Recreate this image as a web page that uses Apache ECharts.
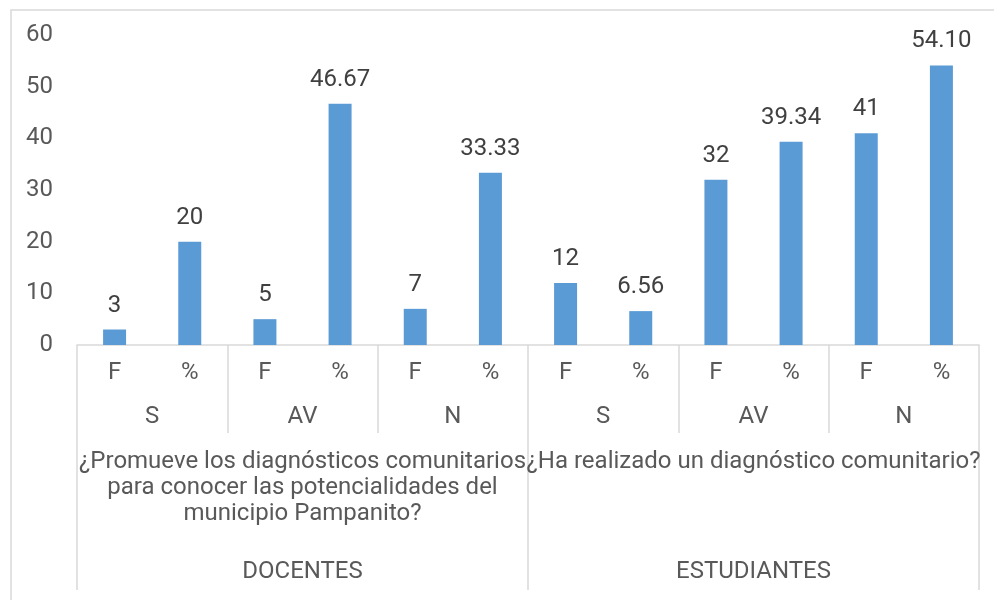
<!DOCTYPE html>
<html>
<head>
<meta charset="utf-8">
<script src="https://cdn.jsdelivr.net/npm/echarts@6/dist/echarts.min.js"></script>
<style>
  html, body { margin: 0; padding: 0; background: #fff; }
  #chart { width: 994px; height: 600px; }
</style>
</head>
<body>
<div id="chart"></div>
<script>
// leaf categories (F = frecuencia, % = porcentaje)
const leafLabels = ["F", "%", "F", "%", "F", "%", "F", "%", "F", "%", "F", "%"];
const answerLabels = ["S", "AV", "N", "S", "AV", "N"];
const questionLabels = [
  "¿Promueve los diagnósticos comunitarios\npara conocer las potencialidades del\nmunicipio Pampanito?",
  "¿Ha realizado un diagnóstico comunitario?"
];
const groupLabels = ["DOCENTES", "ESTUDIANTES"];

const values = [3, 20, 5, 46.67, 7, 33.33, 12, 6.56, 32, 39.34, 41, 54.1];
const valueLabels = ["3", "20", "5", "46.67", "7", "33.33", "12", "6.56", "32", "39.34", "41", "54.10"];

const textColor = "#595959";
const lineColor = "#d9d9d9";
const font = "Roboto";
const fs = 24;

const chart = echarts.init(document.getElementById("chart"));

function levelAxis(data, margin, tickLen) {
  return {
    type: "category",
    position: "bottom",
    data: data,
    axisLine: { show: false },
    axisTick: {
      show: tickLen > 0,
      interval: 0,
      length: tickLen,
      lineStyle: { color: lineColor, width: 1.5 }
    },
    axisLabel: {
      interval: 0,
      margin: margin,
      color: textColor,
      fontFamily: font,
      fontSize: fs,
      lineHeight: 26,
      verticalAlign: "top"
    },
    splitLine: { show: false }
  };
}

chart.setOption({
  animation: false,
  grid: { left: 77, right: 15, top: 35, bottom: 255 },
  graphic: [
    {
      type: "rect",
      shape: { x: 11, y: 10, width: 1000, height: 620 },
      style: { fill: "none", stroke: lineColor, lineWidth: 1.5 }
    }
  ],
  xAxis: [
    {
      type: "category",
      position: "bottom",
      data: leafLabels,
      axisLine: { show: true, lineStyle: { color: lineColor, width: 1.5 } },
      axisTick: { show: false },
      axisLabel: {
        interval: 0,
        margin: 15,
        color: textColor,
        fontFamily: font,
        fontSize: fs,
        lineHeight: 26,
        verticalAlign: "top"
      }
    },
    levelAxis(answerLabels, 59, 88),
    levelAxis(questionLabels, 104, 245),
    levelAxis(groupLabels, 214, 245)
  ],
  yAxis: {
    type: "value",
    min: 0,
    max: 60,
    interval: 10,
    axisLine: { show: false },
    axisTick: { show: false },
    splitLine: { show: false },
    axisLabel: {
      margin: 24,
      color: textColor,
      fontFamily: font,
      fontSize: fs
    }
  },
  series: [
    {
      type: "bar",
      xAxisIndex: 0,
      data: values,
      barWidth: 23,
      itemStyle: { color: "#5B9BD5" },
      label: {
        show: true,
        position: "top",
        distance: 12,
        color: "#404040",
        fontFamily: font,
        fontSize: fs,
        formatter: (p) => valueLabels[p.dataIndex]
      }
    }
  ]
});
</script>
</body>
</html>
